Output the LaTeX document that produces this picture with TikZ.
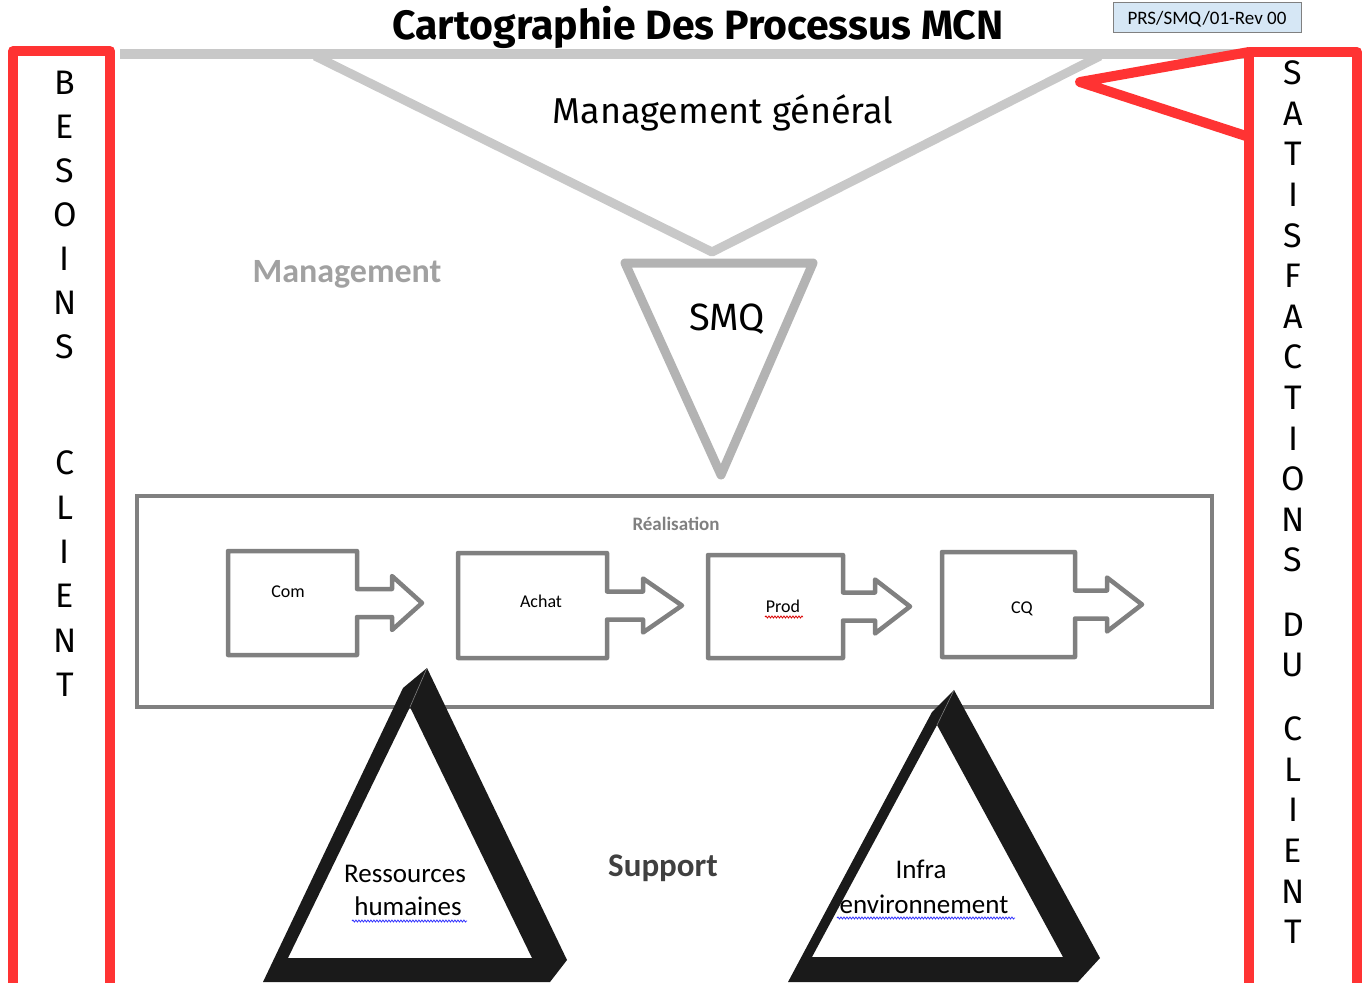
\documentclass[tikz,border=0pt]{standalone}
\usepackage{fontspec}
\setmainfont{Carlito}
\newfontfamily\comicfont{Fira Sans}
\usetikzlibrary{decorations.pathmorphing}
\definecolor{redframe}{HTML}{FF3333}
\definecolor{mgmtgray}{HTML}{C8C8C8}
\definecolor{smqgray}{HTML}{B3B3B3}
\definecolor{procgray}{HTML}{808080}
\definecolor{refblue}{HTML}{D6E7F5}
\definecolor{supblack}{HTML}{1A1A1A}

\begin{document}
\begin{tikzpicture}[x=1pt,y=-1pt]
	\tikzstyle{every node}+=[inner sep=0pt]
	\tikzstyle{letter}=[font={\comicfont\fontsize{34}{40}\selectfont}]
	\tikzstyle{procstep}=[draw=procgray, line width=4.5pt, line join=round]
	\tikzstyle{proclabel}=[anchor=base, font={\fontsize{18}{22}\selectfont}]
	\tikzstyle{supportlabel}=[anchor=base, font={\fontsize{27}{32}\selectfont}]
	\tikzstyle{spell}=[line width=0.8pt, decorate, decoration={snake, amplitude=1pt, segment length=3pt}]
	\useasboundingbox (0,0) rectangle (1367,982);
	\clip (0,0) rectangle (1367,982);
	% title and reference
	\node [anchor=base, font={\comicfont\bfseries\fontsize{41}{46}\selectfont}] (title) at (698,40) {Cartographie Des Processus MCN};
	\node [draw=gray, fill=refblue, minimum width=188pt, minimum height=30pt] (ref) at (1207,17) {};
	\node [anchor=base, font={\fontsize{19}{23}\selectfont}] (reftext) at (1207,25) {PRS/SMQ/01-Rev 00};
	% management
	\draw [mgmtgray, line width=10pt] (120,54) -- (1250,54);
	\draw [mgmtgray, line width=9pt, line join=round] (315,56) -- (712,252) -- (1100,56);
	\node [anchor=base, font={\comicfont\fontsize{36}{42}\selectfont}] (mgmtgen) at (723,123) {Management général};
	\node [anchor=base, text=smqgray!90!black, font={\bfseries\fontsize{34}{40}\selectfont}] (mgmt) at (347,282) {Management};
	\draw [smqgray, line width=9pt, line join=round] (625,263) -- (813,263) -- (721,475) -- cycle;
	\node [anchor=base, font={\comicfont\fontsize{38}{44}\selectfont}] (smq) at (727,330) {SMQ};
	% client columns
	\draw [redframe, line width=10pt, line join=round] (13,1000) -- (13,51) -- (110,51) -- (110,1000);
	\draw [redframe, line width=10pt, line join=round] (1249,1000) -- (1249,52) -- (1357,52) -- (1357,1000);
	\draw [redframe, line width=10pt, line join=round] (1249,52) -- (1080,82) -- (1249,137);
	\foreach \ch [count=\i from 0] in {B,E,S,O,I,N,S}
		\node [letter] (besoin\i) at (65,{83+44*\i}) {\ch};
	\foreach \ch [count=\i from 0] in {C,L,I,E,N,T}
		\node [letter] (clientg\i) at (65,{463+44.4*\i}) {\ch};
	\foreach \ch [count=\i from 0] in {S,A,T,I,S,F,A,C,T,I,O,N,S}
		\node [letter] (satisf\i) at (1293,{73+40.6*\i}) {\ch};
	\node [letter] (du0) at (1293,625) {D};
	\node [letter] (du1) at (1293,665) {U};
	\foreach \ch [count=\i from 0] in {C,L,I,E,N,T}
		\node [letter] (clientd\i) at (1293,{729+40.6*\i}) {\ch};
	% realisation
	\draw [procgray, line width=4pt] (137,496) rectangle (1212,707);
	\node [anchor=base, text=procgray, font={\bfseries\fontsize{19}{23}\selectfont}] (real) at (676,530) {Réalisation};
	\foreach \l/\t/\r/\b/\hx/\tx in {228/551/357/655/392/422, 458/553/607/658/643/682, 708/555/843/658/875/910, 942/552/1075/657/1107/1142} {
		\pgfmathsetmacro{\c}{(\t+\b)/2}
		\draw [procstep] (\l,\t) -- (\r,\t) -- (\r,\c-14) -- (\hx,\c-14) -- (\hx,\c-27) -- (\tx,\c) -- (\hx,\c+27) -- (\hx,\c+14) -- (\r,\c+14) -- (\r,\b) -- (\l,\b) -- cycle;
	}
	\node [proclabel] (com) at (288,597) {Com};
	\node [proclabel] (achat) at (541,607) {Achat};
	\node [proclabel] (prod) at (783,612) {Prod};
	\node [proclabel] (cq) at (1022,613) {CQ};
	\draw [spell, red!85!black] (765,617) -- (803,617);
	% support
	\fill [supblack, even odd rule] (427,668) -- (567,960) -- (550,982) -- (263,982) -- (403,688) -- cycle
		(410,707) -- (288,958) -- (532,958) -- cycle;
	\draw [gray, line width=0.6pt] (427,668) -- (410,707);
	\fill [supblack, even odd rule] (954,690) -- (1100,958) -- (1078,982) -- (788,982) -- (932,712) -- cycle
		(937,725) -- (812,957) -- (1063,957) -- cycle;
	\draw [gray, line width=0.6pt] (954,690) -- (937,725);
	\node [supportlabel] (ressources) at (405,882) {Ressources};
	\node [supportlabel] (humaines) at (408,915) {humaines};
	\draw [spell, blue!80] (352,921) -- (467,921);
	\node [supportlabel] (infra) at (921,878) {Infra};
	\node [supportlabel] (environ) at (924,913) {environnement};
	\draw [spell, blue!80] (837,918) -- (1015,918);
	\node [anchor=base, text=black!75, font={\bfseries\fontsize{33}{38}\selectfont}] (support) at (663,876) {Support};
\end{tikzpicture}
\end{document}
